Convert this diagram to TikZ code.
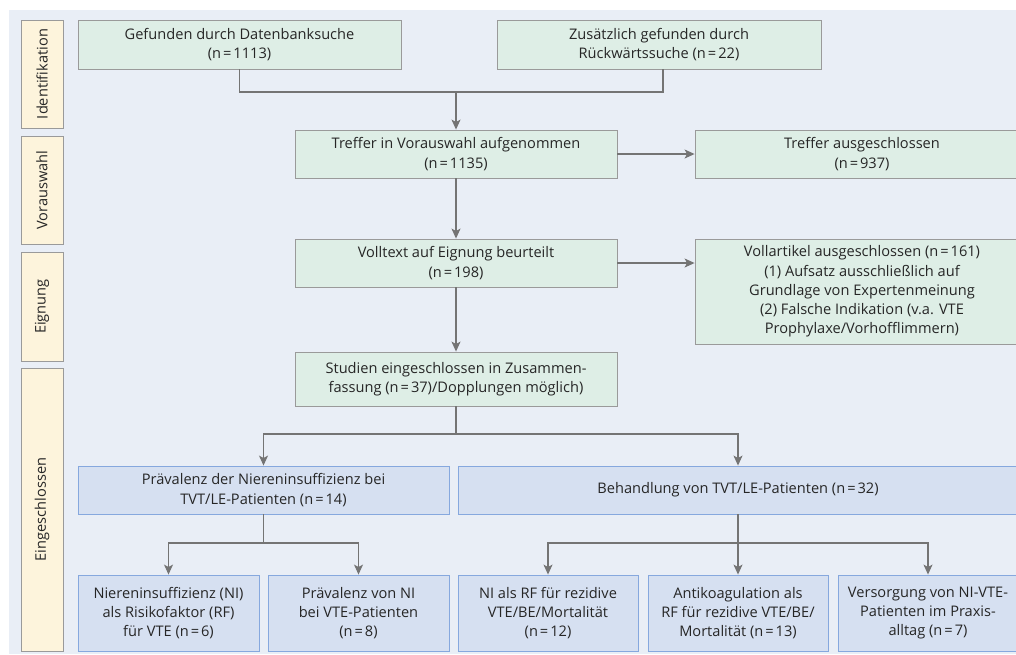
\documentclass[tikz,border=0pt]{standalone}
\usepackage{fontspec}
\setmainfont{Open Sans}
\usetikzlibrary{arrows.meta}
\definecolor{bgc}{HTML}{E9EEF6}
\definecolor{grf}{HTML}{DEEEE6}
\definecolor{blf}{HTML}{D6E0F1}
\definecolor{ylf}{HTML}{FDF4DC}
\definecolor{gbd}{HTML}{9A9A9A}
\definecolor{bbd}{HTML}{86A8DE}
\definecolor{lnc}{HTML}{747474}
\newcommand{\nn}[1]{(n\kern2pt=\kern2pt#1)}
\tikzset{
  base/.style={rectangle, inner sep=2pt, align=center, font=\fontsize{14.6}{19.3}\selectfont, text=black!85, line width=0.9pt},
  gbox/.style={base, draw=gbd, fill=grf},
  bbox/.style={base, draw=bbd, fill=blf},
  side/.style={base, draw=gbd, fill=ylf, rotate=90, minimum height=42pt},
  conn/.style={draw=lnc, line width=1.1pt},
  arr/.style={conn, -{Stealth[length=10pt,width=9pt,inset=2.5pt]}},
}
\begin{document}
\begin{tikzpicture}[x=1pt,y=-1pt]
\useasboundingbox (0,0) rectangle (1016,654);
\begin{scope}
\clip (0,0) rectangle (1016,654);
\fill[bgc] (9,10) rectangle (1016,654);
% side labels
\node[side, minimum width=108] (s1) at (42,74) {Identifikation};
\node[side, minimum width=108] (s2) at (42,190) {Vorauswahl};
\node[side, minimum width=109] (s3) at (42,306.5) {Eignung};
\node[side, minimum width=283] (s4) at (42,509.5) {Eingeschlossen};
% green boxes
\node[gbox, minimum width=323, minimum height=49] (gef) at (239.5,44.5) {Gefunden durch Datenbanksuche\\\nn{1113}};
\node[gbox, minimum width=324, minimum height=49] (zus) at (659,44.5) {Zusätzlich gefunden durch\\Rückwärtssuche \nn{22}};
\node[gbox, minimum width=322, minimum height=48] (trv) at (456,154) {Treffer in Vorauswahl aufgenommen\\\nn{1135}};
\node[gbox, minimum width=334, minimum height=48] (tra) at (862,154) {Treffer ausgeschlossen\\\nn{937}};
\node[gbox, minimum width=322, minimum height=48] (vol) at (456,263) {Volltext auf Eignung beurteilt\\\nn{198}};
\node[gbox, minimum width=334, minimum height=105] (vat) at (862,291.5) {Vollartikel ausgeschlossen \nn{161}\\(1) Aufsatz ausschließlich auf\\Grundlage von Expertenmeinung\\(2) Falsche Indikation (v.a. VTE\\Prophylaxe/Vorhofflimmern)};
\node[gbox, minimum width=322, minimum height=54] (stu) at (456,379) {Studien eingeschlossen in Zusammen-\\fassung \nn{37}/Dopplungen möglich)};
% blue boxes
\node[bbox, minimum width=371, minimum height=48] (prv) at (263.5,490) {Prävalenz der Niereninsuffizienz bei\\TVT/LE-Patienten \nn{14}};
\node[bbox, minimum width=560, minimum height=48] (beh) at (738,490) {Behandlung von TVT/LE-Patienten \nn{32}};
\node[bbox, minimum width=181, minimum height=76] (b1) at (168.5,613) {Niereninsuffizienz (NI)\\als Risikofaktor (RF)\\für VTE \nn{6}};
\node[bbox, minimum width=181, minimum height=76] (b2) at (358.5,613) {Prävalenz von NI\\bei VTE-Patienten\\\nn{8}};
\node[bbox, minimum width=180, minimum height=76] (b3) at (548,613) {NI als RF für rezidive\\VTE/BE/Mortalität\\\nn{12}};
\node[bbox, minimum width=180, minimum height=76] (b4) at (738,613) {Antikoagulation als\\RF für rezidive VTE/BE/\\Mortalität \nn{13}};
\node[bbox, minimum width=180, minimum height=76] (b5) at (928,613) {Versorgung von NI-VTE-\\Patienten im Praxis-\\alltag \nn{7}};
% connectors
\coordinate (j1) at (456,92);
\draw[conn] (gef.south) |- (j1) -| ([xshift=4pt]zus.south);
\draw[arr] (j1) -- (trv.north);
\draw[arr] (trv.east) -- (tra.west);
\draw[arr] (trv.south) -- (vol.north);
\draw[arr] (vol.east) -- (vat.west |- vol.east);
\draw[arr] (vol.south) -- (stu.north);
\coordinate (j2) at (456,434);
\draw[conn] (stu.south) -- (j2);
\draw[arr] (j2) -| (prv.north);
\draw[arr] (j2) -| (beh.north);
\coordinate (j3) at (263.5,543);
\draw[conn] (prv.south) -- (j3);
\draw[arr] (j3) -| (b1.north);
\draw[arr] (j3) -| (b2.north);
\coordinate (j4) at (738,543);
\draw[conn] (beh.south) -- (j4);
\draw[arr] (j4) -| (b3.north);
\draw[arr] (j4) -- (b4.north);
\draw[arr] (j4) -| (b5.north);
\end{scope}
\end{tikzpicture}
\end{document}
